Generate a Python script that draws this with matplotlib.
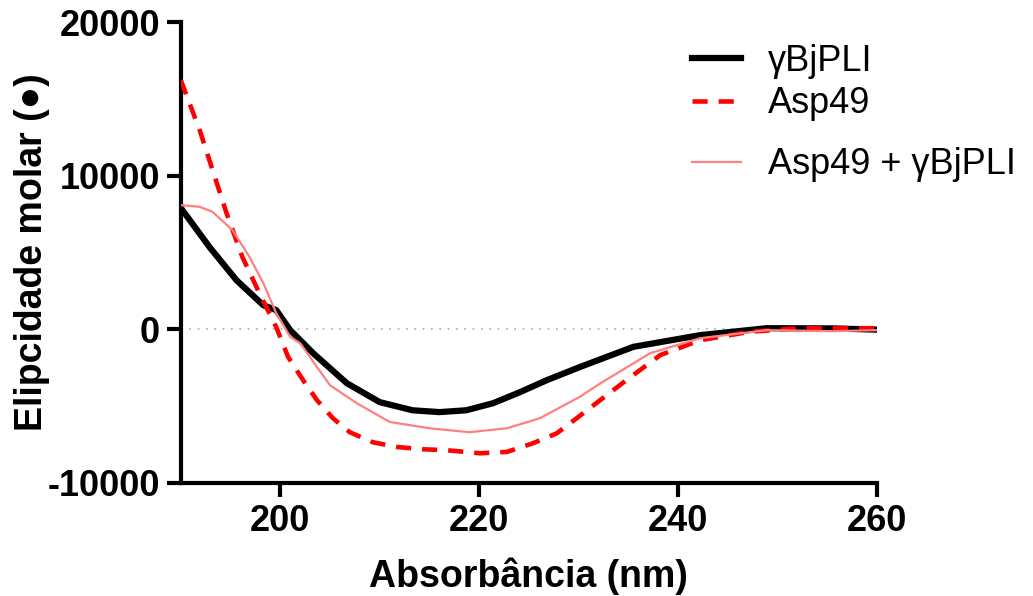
import numpy as np
import matplotlib.pyplot as plt

plt.rcParams['font.family'] = ['Liberation Sans', 'DejaVu Sans']
plt.rcParams['axes.unicode_minus'] = False

# gammaBjPLI
nm_bj = [190, 192.9, 195.6, 198.3, 199.6, 201, 203.3, 206.7, 210, 213.3, 216, 218.7,
         221.4, 224.1, 226.8, 230.1, 235.5, 242.2, 248.9, 255.6, 260]
cd_bj = [7900, 5340, 3190, 1560, 1240, -60, -1560, -3520, -4750, -5280, -5400, -5280,
         -4820, -4100, -3320, -2470, -1150, -390, 65, 50, -30]

# Asp49
nm_asp = [190, 191.9, 193.2, 194.6, 196.2, 197.9, 199.6, 200.8, 202.3, 203.7, 205.3,
          207, 209.3, 211.7, 214.4, 216.7, 220.1, 222.8, 225.4, 227.8, 229.8, 231.1,
          234.8, 238.2, 242.2, 247.2, 252.3, 260]
cd_asp = [16220, 12960, 10360, 7560, 4690, 2350, 130, -1820, -3320, -4630, -5800,
          -6710, -7360, -7670, -7820, -7880, -8080, -7990, -7430, -6780, -5800, -5150,
          -3320, -1690, -720, -170, 65, 65]

# Asp49 + gammaBjPLI
nm_mix = [190, 191.9, 193.2, 195.2, 196.9, 198.3, 199.6, 201, 202, 205, 207.7, 211,
          215, 219, 222.8, 226.1, 230.1, 232.2, 237.2, 242.2, 248.9, 255.6, 260]
cd_mix = [8080, 7970, 7640, 6450, 4710, 3000, 1040, -500, -910, -3650, -4820, -6040,
          -6450, -6710, -6450, -5800, -4410, -3520, -1560, -590, -65, -130, -65]

fig = plt.figure(figsize=(10.33, 5.96), dpi=100)
ax = fig.add_axes([0.175, 0.190, 0.674, 0.773])

ax.axhline(0, color='#aaaaaa', lw=1.2, ls=(0, (1, 4)), zorder=1)
ax.plot(nm_bj, cd_bj, color='black', lw=4.5, label='γBjPLI', zorder=3)
ax.plot(nm_asp, cd_asp, color='#ff0000', lw=3.3, ls=(0, (3.3, 2.4)), label='Asp49', zorder=4)
ax.plot(nm_mix, cd_mix, color='#ff8080', lw=1.6, label='Asp49 + γBjPLI', zorder=5)

ax.set_xlim(190, 260)
ax.set_ylim(-10000, 20000)
ax.set_xticks([200, 220, 240, 260])
ax.set_yticks([-10000, 0, 10000, 20000])
for s in ['top', 'right']:
    ax.spines[s].set_visible(False)
for s in ['left', 'bottom']:
    ax.spines[s].set_linewidth(3)
ax.tick_params(width=3, length=10, labelsize=26, pad=5)
for lab in ax.get_xticklabels() + ax.get_yticklabels():
    lab.set_fontweight('bold')

ax.set_xlabel('Absorbância (nm)', fontsize=27, fontweight='bold')
ax.set_ylabel('Elipcidade molar (●)', fontsize=27, fontweight='bold')
ax.xaxis.set_label_coords(0.5, -0.163)
ax.yaxis.set_label_coords(-0.188, 0.5)

handles, labels = ax.get_legend_handles_labels()
leg_kw = dict(loc='upper left', frameon=False, fontsize=26, handlelength=1.35,
              handletextpad=0.75, labelspacing=0.2, borderpad=0, borderaxespad=0)
fig.legend(handles[:2], labels[:2], bbox_to_anchor=(0.670, 0.926), **leg_kw)
fig.legend(handles[2:], labels[2:], bbox_to_anchor=(0.670, 0.753), **leg_kw)

fig.savefig('out.png', dpi=100)
